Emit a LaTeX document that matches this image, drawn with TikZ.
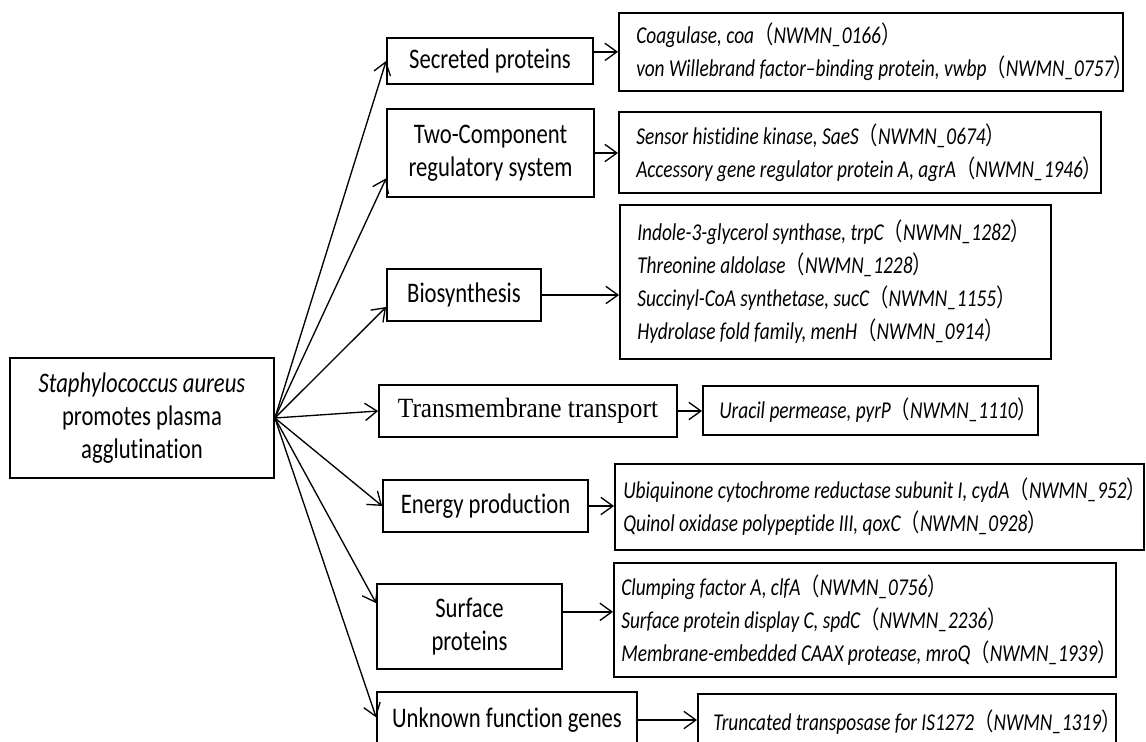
\documentclass[tikz,border=0pt]{standalone}
\usepackage{fontspec}
\setmainfont{Carlito}[Ligatures={TeX,NoCommon}]
\newfontfamily\timesfont{Liberation Serif}
\newfontfamily\cjkfont{Noto Sans CJK SC}
\usetikzlibrary{arrows.meta,positioning,calc}
\newcommand{\lpar}{{\cjkfont\upshape （}}
\newcommand{\rpar}{{\cjkfont\upshape ）}}
\tikzset{
  catbox/.style={draw,line width=1.3pt,inner sep=0pt,align=center},
  sanstext/.style={yscale=1.25,font=\fontsize{17}{19.8}\selectfont},
  genebox/.style={draw,line width=1.3pt,inner sep=0pt,anchor=north west},
  genelist/.style={inner sep=0pt,anchor=west,align=left,yscale=1.25,
    font=\itshape\fontsize{14.5}{19.8}\selectfont},
  link/.style={-{Straight Barb[length=9pt,width=13pt]},line width=1pt}
}

\begin{document}
\begin{tikzpicture}[x=0.75pt,y=-0.75pt]
  \useasboundingbox (0,0) rectangle (1146,742);

  % root
  \node[catbox,sanstext,minimum width=198pt,minimum height=72pt] (root) at (142,418)
    {\textit{Staphylococcus aureus}\\promotes plasma\\agglutination};

  % categories
  \node[catbox,sanstext,minimum width=154.5pt,minimum height=27.6pt] (sec) at (490,61) {Secreted proteins};
  \node[catbox,sanstext,minimum width=155.25pt,minimum height=52.8pt] (two) at (490.5,153) {Two-Component\\regulatory system};
  \node[catbox,sanstext,minimum width=115.5pt,minimum height=31.2pt] (bio) at (464,295) {Biosynthesis};
  \node[catbox,yscale=1.1,minimum width=223.5pt,minimum height=35.5pt,
    font=\timesfont\fontsize{19}{22}\selectfont] (trans) at (528,411) {Transmembrane transport};
  \node[catbox,sanstext,minimum width=153.75pt,minimum height=31.2pt] (energy) at (485.5,506) {Energy production};
  \node[catbox,sanstext,minimum width=138.75pt,minimum height=51pt] (surf) at (469.5,626.5) {Surface\\proteins};
  \node[catbox,sanstext,minimum width=195pt,minimum height=33.6pt] (unk) at (507,720) {Unknown function genes};

  % gene boxes
  \node[genebox,minimum width=378pt,minimum height=58.5pt] (gsec) at (618,12) {};
  \node[genebox,minimum width=361.5pt,minimum height=60.75pt] (gtwo) at (618,111) {};
  \node[genebox,minimum width=323.25pt,minimum height=115.5pt] (gbio) at (619,204) {};
  \node[genebox,minimum width=251.25pt,minimum height=36.75pt] (gtrans) at (702,385) {};
  \node[genebox,minimum width=396.75pt,minimum height=64.5pt] (genergy) at (614,463) {};
  \node[genebox,minimum width=376.5pt,minimum height=85.5pt] (gsurf) at (613,562) {};
  \node[genebox,minimum width=313.5pt,minimum height=42pt] (gunk) at (697,693) {};

  \node[genelist] (lsec) at ([xshift=13.5pt]gsec.west)
    {Coagulase, coa\lpar NWMN\_0166\rpar\\
     von Willebrand factor--binding protein, vwbp\lpar NWMN\_0757\rpar};
  \node[genelist] (ltwo) at ([xshift=13.5pt]gtwo.west)
    {Sensor histidine kinase, SaeS\lpar NWMN\_0674\rpar\\
     Accessory gene regulator protein A, agrA\lpar NWMN\_1946\rpar};
  \node[genelist] (lbio) at ([xshift=13.5pt]gbio.west)
    {Indole-3-glycerol synthase, trpC\lpar NWMN\_1282\rpar\\
     Threonine aldolase\lpar NWMN\_1228\rpar\\
     Succinyl-CoA synthetase, sucC\lpar NWMN\_1155\rpar\\
     Hydrolase fold family, menH\lpar NWMN\_0914\rpar};
  \node[genelist] (ltrans) at ([xshift=12.75pt]gtrans.west)
    {Uracil permease, pyrP\lpar NWMN\_1110\rpar};
  \node[genelist] (lenergy) at ([xshift=6.75pt]genergy.west)
    {Ubiquinone cytochrome reductase subunit I, cydA\lpar NWMN\_952\rpar\\
     Quinol oxidase polypeptide III, qoxC\lpar NWMN\_0928\rpar};
  \node[genelist] (lsurf) at ([xshift=6pt]gsurf.west)
    {Clumping factor A, clfA\lpar NWMN\_0756\rpar\\
     Surface protein display C, spdC\lpar NWMN\_2236\rpar\\
     Membrane-embedded CAAX protease, mroQ\lpar NWMN\_1939\rpar};
  \node[genelist] (lunk) at ([xshift=12pt]gunk.west)
    {Truncated transposase for IS1272\lpar NWMN\_1319\rpar};

  % root to categories
  \foreach \t/\s in {sec/0pt,two/-19pt,bio/-9pt,trans/0pt,energy/0pt,surf/17.5pt,unk/2pt}
    \draw[link] (root.east) -- ([yshift=\s]\t.west);

  % categories to genes
  \coordinate (sfrom) at ([yshift=11pt]surf.east);
  \draw[link] (sec.east |- gsec.west) -- (gsec.west);
  \draw[link] (two.east) -- (two.east -| gtwo.west);
  \draw[link] (bio.east) -- (bio.east -| gbio.west);
  \draw[link] (trans.east) -- (trans.east -| gtrans.west);
  \draw[link] (energy.east) -- (energy.east -| genergy.west);
  \draw[link] (sfrom) -- (sfrom -| gsurf.west);
  \draw[link] (unk.east) -- (unk.east -| gunk.west);
\end{tikzpicture}
\end{document}
